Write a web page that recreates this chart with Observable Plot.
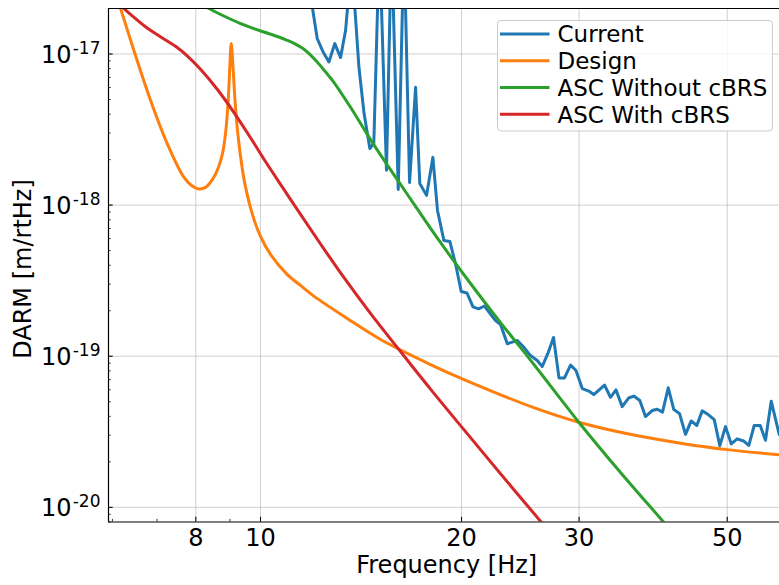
<!DOCTYPE html>
<html>
<head>
<meta charset="utf-8">
<script src="https://cdn.jsdelivr.net/npm/d3@7"></script>
<script src="https://cdn.jsdelivr.net/npm/@observablehq/plot@0.6"></script>
<style>
  html, body { margin: 0; padding: 0; background: #ffffff; }
</style>
</head>
<body>
<div id="chart"></div>
<script>
// ---------------- data ----------------
const seriesNames = ["Current", "Design", "ASC Without cBRS", "ASC With cBRS"];
const seriesColors = ["#1f77b4", "#ff7f0e", "#2ca02c", "#d62728"];

const currentF = [11.72, 12.16, 12.41, 12.66, 12.92, 13.18, 13.41, 13.69, 14.04, 14.29,
  14.58, 14.78, 15.07, 15.44, 15.71, 16.08, 16.40, 16.72, 17.07, 17.32,
  17.73, 18.12, 18.41, 18.82, 19.21, 19.59, 19.98, 20.38, 20.81, 21.21,
  21.65, 22.10, 22.49, 22.88, 23.42, 23.82, 24.24, 24.79, 25.37, 25.97,
  26.42, 26.93, 27.47, 27.99, 28.53, 29.13, 29.68, 30.33, 31.02, 31.56,
  32.75, 33.43, 34.07, 34.81, 35.58, 36.23, 36.99, 37.72, 38.60, 39.28,
  40.00, 40.80, 41.59, 42.42, 43.30, 44.16, 45.02, 45.87, 46.83, 47.81,
  48.74, 49.71, 50.70, 51.75, 52.89, 53.87, 54.88, 56.03, 57.06, 58.19, 59.88];
const currentV = [3.58e-17, 1.265e-17, 1.031e-17, 8.85e-18, 1.172e-17, 9.47e-18, 1.435e-17, 4.17e-17, 8.20e-18, 4.05e-18,
  2.37e-18, 2.56e-18, 5.66e-17, 1.70e-18, 5.66e-17, 1.27e-18, 5.66e-17, 1.41e-18, 6.02e-18, 1.39e-18,
  1.16e-18, 2.07e-18, 9.22e-19, 5.84e-19, 5.75e-19, 4.09e-19, 2.68e-19, 2.62e-19, 2.12e-19, 2.06e-19,
  2.15e-19, 1.90e-19, 1.72e-19, 1.62e-19, 1.21e-19, 1.24e-19, 1.27e-19, 1.15e-19, 1.01e-19, 9.37e-20,
  8.55e-20, 1.04e-19, 1.33e-19, 7.19e-20, 7.19e-20, 8.74e-20, 8.04e-20, 6.11e-20, 5.88e-20, 5.58e-20,
  6.45e-20, 5.35e-20, 5.99e-20, 4.64e-20, 5.29e-20, 5.45e-20, 5.09e-20, 3.99e-20, 4.37e-20, 4.46e-20,
  4.27e-20, 6.18e-20, 4.44e-20, 4.17e-20, 3.04e-20, 3.73e-20, 3.48e-20, 4.35e-20, 4.11e-20, 3.81e-20,
  2.56e-20, 3.42e-20, 2.63e-20, 2.84e-20, 2.75e-20, 2.57e-20, 3.48e-20, 3.48e-20, 2.78e-20, 5.04e-20, 2.98e-20];

const designF = [5.92, 6.171, 6.460, 6.843, 7.249, 7.676, 7.883, 8.083, 8.272, 8.475,
  8.652, 8.772, 8.863, 8.946, 8.995, 9.039, 9.095, 9.158, 9.247, 9.382,
  9.496, 9.718, 10.0, 10.35, 10.96, 11.48, 12.02, 13.48, 15.13, 17.97,
  20.05, 25.66, 29.97, 36.23, 42.56, 50.0, 59.88];
const designV = [3.58e-17, 2.00e-17, 1.058e-17, 4.94e-18, 2.55e-18, 1.53e-18, 1.35e-18, 1.28e-18, 1.31e-18, 1.48e-18,
  1.78e-18, 2.20e-18, 2.97e-18, 4.94e-18, 8.20e-18, 1.172e-17, 8.20e-18, 4.94e-18, 2.97e-18, 1.79e-18,
  1.32e-18, 8.77e-19, 6.20e-19, 4.72e-19, 3.48e-19, 2.94e-19, 2.50e-19, 1.78e-19, 1.29e-19, 8.81e-20,
  7.09e-20, 4.57e-20, 3.66e-20, 3.01e-20, 2.66e-20, 2.41e-20, 2.23e-20];

const noBrsF = [7.856, 8.367, 8.763, 9.279, 9.941, 10.65, 10.96, 11.28, 11.55, 11.81,
  12.16, 12.51, 12.88, 13.64, 14.45, 15.30, 16.21, 17.03, 18.60, 20.63,
  22.88, 25.20, 28.31, 29.97, 34.61, 40.18, 42.56];
const noBrsV = [2.30e-17, 2.00e-17, 1.804e-17, 1.609e-17, 1.435e-17, 1.296e-17, 1.232e-17, 1.163e-17, 1.094e-17, 1.008e-17,
  8.84e-18, 7.62e-18, 6.50e-18, 4.44e-18, 2.94e-18, 1.99e-18, 1.37e-18, 9.95e-19, 5.66e-19, 3.03e-19,
  1.67e-19, 9.80e-20, 5.05e-20, 3.66e-20, 1.70e-20, 7.96e-21, 5.93e-21];

const withBrsF = [6.023, 6.241, 6.424, 6.726, 7.042, 7.459, 7.766, 8.131, 8.613, 9.121,
  9.661, 10.23, 10.84, 11.48, 12.30, 13.33, 14.61, 16.11, 17.97, 20.05,
  22.88, 26.26, 28.14];
const withBrsV = [2.30e-17, 2.00e-17, 1.790e-17, 1.514e-17, 1.320e-17, 1.125e-17, 9.73e-18, 7.92e-18, 5.84e-18, 4.11e-18,
  2.79e-18, 1.87e-18, 1.27e-18, 8.68e-19, 5.53e-19, 3.32e-19, 1.92e-19, 1.11e-19, 6.06e-20, 3.37e-20,
  1.67e-20, 8.10e-21, 5.66e-21];

// axes
const xDomain = [5.92, 59.88];
const yDomain = [8e-21, 2e-17];
const xMajor = [8, 10, 20, 30, 50];
const xTickLabels = ["8", "10", "20", "30", "50"];
const xMinor = [6, 7, 9];
const yMajor = [1e-20, 1e-19, 1e-18, 1e-17];
const yTickBase = ["10", "10", "10", "10"];
const yTickExp = ["-20", "-19", "-18", "-17"];
const yMinor = [8e-21, 9e-21,
  2e-20, 3e-20, 4e-20, 5e-20, 6e-20, 7e-20, 8e-20, 9e-20,
  2e-19, 3e-19, 4e-19, 5e-19, 6e-19, 7e-19, 8e-19, 9e-19,
  2e-18, 3e-18, 4e-18, 5e-18, 6e-18, 7e-18, 8e-18, 9e-18];
const xLabel = "Frequency [Hz]";
const yLabel = "DARM [m/rtHz]";

// ---------------- build ----------------
const toRows = (F, V) => F.map((f, i) => ({f, v: V[i]}));
const curveData = [
  toRows(currentF, currentV),
  toRows(designF, designV),
  toRows(noBrsF, noBrsV),
  toRows(withBrsF, withBrsV)
];
const curveKinds = ["linear", "catmull-rom", "catmull-rom", "catmull-rom"];

const FONT = "'DejaVu Sans', 'Liberation Sans', sans-serif";
const LW = 3;

function legendMark(index, scales, values, dims) {
  const g = d3.create("svg:g").attr("font-family", FONT).attr("text-anchor", "start");
  const left = 497.5, top = 20.5, w = 275, h = 110.5;
  g.append("rect")
    .attr("x", left).attr("y", top).attr("width", w).attr("height", h)
    .attr("rx", 3.5).attr("ry", 3.5)
    .attr("fill", "white").attr("fill-opacity", 0.8)
    .attr("stroke", "#cccccc").attr("stroke-width", 1);
  seriesNames.forEach((name, i) => {
    const cy = 34 + i * 26.75;
    g.append("line")
      .attr("x1", left + 2.5).attr("x2", left + 52)
      .attr("y1", cy).attr("y2", cy)
      .attr("stroke", seriesColors[i]).attr("stroke-width", LW);
    g.append("text")
      .attr("x", left + 60).attr("y", cy + 8.3)
      .attr("text-anchor", "start")
      .attr("font-size", 23).attr("fill", "black")
      .text(name);
  });
  return g.node();
}

const plot = Plot.plot({
  width: 779,
  height: 585,
  marginLeft: 108,
  marginRight: 0,
  marginTop: 8,
  marginBottom: 63.5,
  x: {type: "log", domain: xDomain},
  y: {type: "log", domain: yDomain},
  style: {fontFamily: FONT, background: "white", color: "black"},
  marks: [
    Plot.gridX(xMajor, {stroke: "#b0b0b0", strokeOpacity: 0.6, strokeWidth: 1}),
    Plot.gridY(yMajor, {stroke: "#b0b0b0", strokeOpacity: 0.6, strokeWidth: 1}),
    ...curveData.map((d, i) => Plot.line(d, {
      x: "f", y: "v", stroke: seriesColors[i], strokeWidth: LW,
      curve: curveKinds[i], clip: true, strokeLinejoin: "round", strokeLinecap: "butt"
    })),
    Plot.ruleX([xDomain[0]], {stroke: "black", strokeWidth: 1.2}),
    Plot.ruleY([yDomain[0], yDomain[1]], {stroke: "black", strokeWidth: 1.2}),
    Plot.axisX(xMajor, {anchor: "bottom", tickSize: 4.67, dy: -4.67, fill: "none", stroke: "black", strokeWidth: 1.07, label: null}),
    Plot.axisX(xMinor, {anchor: "bottom", tickSize: 2.67, dy: -2.67, fill: "none", stroke: "black", strokeWidth: 0.8, label: null}),
    Plot.axisY(yMajor, {anchor: "left", tickSize: 4.67, dx: 4.67, fill: "none", stroke: "black", strokeWidth: 1.07, label: null}),
    Plot.axisY(yMinor, {anchor: "left", tickSize: 2.67, dx: 2.67, fill: "none", stroke: "black", strokeWidth: 0.8, label: null}),
    Plot.text(xMajor, {x: d => d, frameAnchor: "bottom", dy: 16.3, text: (d, i) => xTickLabels[i],
      fontSize: 24, lineAnchor: "middle", textAnchor: "middle", fill: "black"}),
    Plot.text(yMajor, {y: d => d, frameAnchor: "left", dx: -37, dy: 1.3, text: (d, i) => yTickBase[i],
      fontSize: 24, lineAnchor: "middle", textAnchor: "end", fill: "black"}),
    Plot.text(yMajor, {y: d => d, frameAnchor: "left", dx: -8, dy: -5.7, text: (d, i) => yTickExp[i],
      fontSize: 17, lineAnchor: "middle", textAnchor: "end", fill: "black"}),
    Plot.text([xLabel], {frameAnchor: "bottom", dx: 2.7, dy: 43.5, text: d => d,
      fontSize: 24, lineAnchor: "middle", textAnchor: "middle", fill: "black"}),
    Plot.text([yLabel], {frameAnchor: "left", dx: -84.9, dy: 3.75, rotate: -90, text: d => d,
      fontSize: 24, lineAnchor: "middle", textAnchor: "middle", fill: "black"}),
    legendMark
  ]
});
document.getElementById("chart").appendChild(plot);
</script>
</body>
</html>
